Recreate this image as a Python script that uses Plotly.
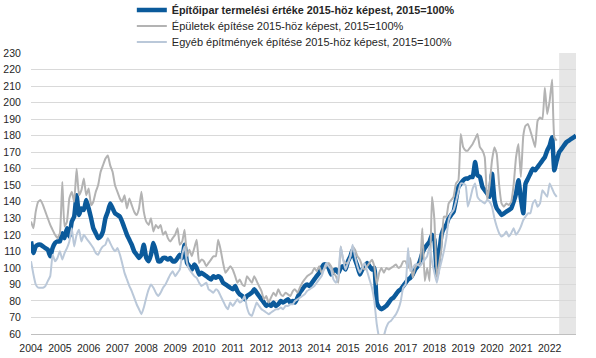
import plotly.graph_objects as go
import pandas as pd

# Monthly index values (2015 = 100), starting January 2004
epitoipar = [
    116, 109, 113, 114, 114, 113, 112, 111, 107, 112, 115, 116,   # 2004
    116, 121, 118, 124, 119, 128, 131, 144, 132, 136, 135, 141,   # 2005
    136, 130, 124, 121, 118, 119, 122, 130, 134, 139, 136, 133,   # 2006
    132, 131, 128, 124, 120, 117, 114, 110, 108, 106, 108, 114,   # 2007
    106, 104, 108, 115, 110, 104, 104, 106, 106, 105, 106, 104,   # 2008
    104, 106, 108, 106, 114, 103, 101, 99, 102, 100, 96, 97,      # 2009
    96, 95, 94, 93, 95, 94, 95, 94, 91, 90, 89, 88,               # 2010
    87, 89, 86, 84, 83, 81, 83, 84, 85, 87, 85, 83,               # 2011
    81, 79, 77, 78, 77, 79, 77, 78, 80, 79, 80, 81,               # 2012
    79, 80, 79, 82, 85, 87, 89, 90, 89, 91, 93, 95,               # 2013
    97, 100, 102, 102, 100, 96, 98, 99, 97, 100, 101, 99,         # 2014
    104, 107, 111, 105, 101, 96, 99, 101, 103, 101, 99, 100,      # 2015
    79, 76, 75, 76, 77, 79, 81, 82, 84, 86, 87, 89,               # 2016
    91, 93, 94, 96, 99, 101, 104, 109, 112, 114, 116, 120,        # 2017
    117, 96, 108, 120, 124, 126, 130, 132, 134, 141, 149, 151,    # 2018
    153, 154, 154, 155, 155, 164, 156, 155, 149, 147, 145, 143,   # 2019
    157, 141, 136, 134, 132, 133, 134, 135, 136, 140, 145, 153,   # 2020
    142, 133, 151, 154, 157, 160, 159, 161, 163, 165, 167, 171,   # 2021
    174, 179, 159, 165, 170, 172, 174, 176, 177, 178, 179, 180,   # 2022
]

epuletek = [
    128, 124, 134, 140, 141, 138, 134, 130, 126, 123, 120, 118,   # 2004
    121, 152, 125, 128, 142, 146, 140, 160, 144, 147, 154, 144,   # 2005
    148, 138, 140, 146, 150, 158, 162, 166, 168, 162, 158, 150,   # 2006
    146, 142, 140, 144, 136, 142, 138, 134, 132, 136, 146, 134,   # 2007
    128, 126, 130, 122, 126, 124, 126, 120, 122, 118, 116, 118,   # 2008
    120, 124, 114, 116, 123, 107, 111, 107, 112, 117, 103, 105,   # 2009
    104, 101, 103, 105, 107, 107, 117, 111, 103, 97, 99, 101,     # 2010
    99, 95, 91, 93, 90, 89, 95, 93, 91, 95, 92, 89,               # 2011
    86, 81, 83, 79, 82, 85, 83, 87, 84, 83, 85, 84,               # 2012
    83, 86, 87, 85, 88, 91, 93, 95, 96, 97, 100, 98,              # 2013
    101, 97, 99, 101, 103, 101, 97, 95, 91, 113, 105, 103,        # 2014
    103, 107, 113, 111, 107, 105, 101, 99, 101, 103, 105, 101,    # 2015
    90, 97, 100, 97, 100, 99, 100, 101, 102, 100, 101, 104,       # 2016
    104, 100, 106, 94, 100, 102, 103, 124, 92, 100, 92, 143,      # 2017
    129, 94, 102, 112, 131, 131, 139, 141, 143, 151, 153, 181,    # 2018
    173, 171, 171, 173, 175, 178, 181, 173, 171, 167, 141, 150,   # 2019
    165, 173, 169, 150, 139, 137, 139, 138, 140, 150, 167, 175,   # 2020
    155, 180, 186, 187, 183, 178, 173, 189, 191, 190, 209, 193,   # 2021
    201, 214, 179, 177,                                           # 2022
]

egyeb = [
    104, 96, 90, 88, 88, 88, 89, 92, 95, 108, 104, 106,           # 2004
    110, 105, 109, 112, 116, 124, 113, 120, 123, 116, 120, 118,   # 2005
    116, 114, 112, 109, 108, 111, 113, 114, 118, 115, 112, 110,   # 2006
    112, 108, 103, 97, 93, 89, 86, 82, 78, 75, 72, 76,            # 2007
    82, 87, 90, 88, 85, 83, 85, 88, 90, 93, 96, 98,               # 2008
    95, 97, 99, 108, 113, 103, 99, 97, 95, 94, 91, 89,            # 2009
    90, 91, 87, 86, 85, 87, 86, 83, 80, 77, 75, 79,               # 2010
    77, 79, 81, 79, 80, 83, 76, 72, 71, 75, 79, 77,               # 2011
    75, 74, 73, 72, 73, 74, 75, 75, 76, 75, 77, 77,               # 2012
    78, 78, 80, 81, 82, 83, 84, 86, 87, 88, 89, 91,               # 2013
    93, 95, 99, 103, 101, 99, 93, 91, 95, 113, 105, 99,           # 2014
    103, 107, 114, 107, 101, 97, 100, 103, 98, 93, 88, 80,        # 2015
    66, 58, 55, 59, 64, 67, 68, 70, 72, 75, 80, 88,               # 2016
    90, 112, 98, 100, 102, 102, 101, 103, 105, 107, 113, 104,     # 2017
    97, 91, 98, 104, 110, 118, 129, 133, 135, 140, 146, 151,      # 2018
    151, 150, 137, 142, 148, 151, 143, 141, 140, 139, 141, 140,   # 2019
    137, 130, 125, 121, 119, 120, 122, 119, 121, 124, 120, 122,   # 2020
    125, 129, 131, 133, 133, 139, 141, 137, 139, 147, 145, 143,   # 2021
    151, 148, 145, 143,                                           # 2022
]

series_names = [
    "<b>Építőipar termelési értéke 2015-höz képest, 2015=100%</b>",
    "Épületek építése 2015-höz képest, 2015=100%",
    "Egyéb építmények építése 2015-höz képest, 2015=100%",
]
tick_years = list(range(2004, 2023))
start_month = "2004-01-01"
forecast_start = "2022-05-01"

d_main = pd.date_range(start_month, periods=len(epitoipar), freq="MS")
d_epul = pd.date_range(start_month, periods=len(epuletek), freq="MS")
d_egyeb = pd.date_range(start_month, periods=len(egyeb), freq="MS")

FONT = "Liberation Sans, Arial, sans-serif"
TXT = "#262626"

fig = go.Figure()
fig.add_trace(go.Scatter(x=d_main, y=epitoipar, mode="lines", name=series_names[0],
                         legend="legend",
                         line=dict(color="#0b5a9b", width=4.5, shape="spline", smoothing=0.4)))
fig.add_trace(go.Scatter(x=d_epul, y=epuletek, mode="lines", name=series_names[1],
                         legend="legend2",
                         line=dict(color="#b3b3b3", width=2, shape="spline", smoothing=0.4)))
fig.add_trace(go.Scatter(x=d_egyeb, y=egyeb, mode="lines", name=series_names[2],
                         legend="legend3",
                         line=dict(color="#bac8d9", width=2, shape="spline", smoothing=0.4)))

fig.add_shape(type="rect", xref="x", yref="y", x0=forecast_start, x1=d_main[-1],
              y0=60, y1=230, fillcolor="#e6e6e6", line_width=0, layer="below")

def leg(ypos, size):
    return dict(x=0.185, xanchor="left", y=ypos, yanchor="middle",
                orientation="v", bgcolor="rgba(0,0,0,0)", itemwidth=30,
                font=dict(family=FONT, size=size, color=TXT))

fig.update_layout(
    width=596, height=358,
    margin=dict(l=31, r=20, t=53, b=24, autoexpand=False),
    paper_bgcolor="white", plot_bgcolor="white",
    font=dict(family=FONT, size=11, color=TXT),
    showlegend=True,
    legend=leg(1.153, 10.8),
    legend2=leg(1.096, 11),
    legend3=leg(1.039, 11),
    xaxis=dict(type="date", range=[start_month, d_main[-1]],
               tickvals=[f"{y}-01-01" for y in tick_years],
               ticktext=[str(y) for y in tick_years],
               showgrid=False, zeroline=False,
               showline=True, linecolor="#bfbfbf", linewidth=1,
               ticks="outside", ticklen=4, tickcolor="rgba(0,0,0,0)",
               tickfont=dict(size=10.5, color=TXT)),
    yaxis=dict(range=[60, 230], tick0=60, dtick=10,
               showgrid=True, gridcolor="#d9d9d9", gridwidth=1,
               zeroline=False, showline=False,
               ticks="outside", ticklen=7, tickcolor="rgba(0,0,0,0)",
               tickfont=dict(size=10.5, color=TXT)),
)

fig.write_html("out.html", config={"displayModeBar": False},
               post_script="document.body.style.margin='0';document.body.style.padding='0';")
